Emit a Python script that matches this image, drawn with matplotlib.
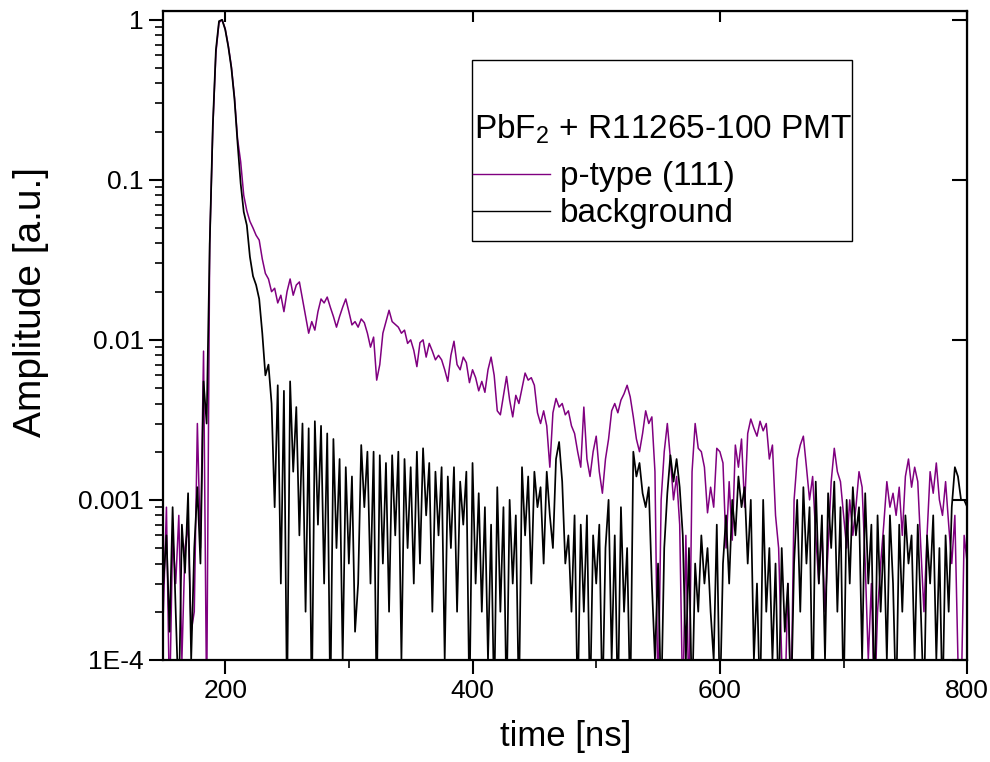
import numpy as np
import matplotlib
matplotlib.use("Agg")
import matplotlib.pyplot as plt
from matplotlib.patches import Rectangle
from matplotlib.ticker import FixedLocator, FixedFormatter, NullFormatter

plt.rcParams['font.family'] = ['Liberation Sans', 'DejaVu Sans']
plt.rcParams['mathtext.fontset'] = 'custom'
plt.rcParams['mathtext.rm'] = 'Liberation Sans'
plt.rcParams['mathtext.it'] = 'Liberation Sans'

# time axis: 150 ns .. 800 ns, 2.5 ns per sample
t_start = 150.0
t_step = 2.5

# amplitudes, in units of 1e-3 a.u. (0.05 = below the axis)
ptype_e3 = [
    0.2, 0.9, 0.05, 0.6, 0.3, 0.8, 0.1, 0.5, 0.7, 0.15,          # 150
    0.2, 3.0, 0.5, 8.5, 0.05, 40, 210, 620, 960, 1000,           # 175
    880, 690, 510, 330, 180, 130, 80, 64, 55, 50,                # 200
    45, 42, 32, 26, 24, 20, 21, 17, 19, 15,                      # 225
    20, 24, 19, 22, 23, 18, 14, 11, 13, 11.5,                    # 250
    15, 18, 17, 18.5, 16, 14, 12, 14, 16, 18,                    # 275
    15, 12.4, 13, 12, 13.5, 12.8, 11, 9, 10.4, 5.6,              # 300
    7, 11, 13, 15.3, 13, 12.5, 12, 11, 11.5, 9.5,                # 325
    10, 8.6, 6.8, 9.6, 10, 7.8, 9.5, 8.5, 7.5, 8,                # 350
    7.5, 6.5, 5.5, 8, 9.8, 7, 6.5, 7.8, 7.2, 5.4,                # 375
    6.5, 5.8, 4.8, 5.5, 4.7, 6.5, 7.8, 6, 3.6, 3.4,              # 400
    4.5, 5.9, 4.2, 3.3, 4.5, 4.0, 5.0, 6.2, 5.6, 5.8,            # 425
    5.2, 3.5, 3.0, 3.6, 2.9, 1.6, 3.5, 4.3, 3.8, 4.0,            # 450
    3.4, 3.6, 2.9, 2.6, 2.0, 1.6, 3.8, 1.8, 1.4, 2.0,            # 475
    2.5, 1.5, 1.1, 1.8, 2.4, 3.6, 4.0, 3.5, 4.2, 4.6,            # 500
    5.2, 4.4, 3.3, 2.4, 2.0, 2.6, 3.6, 3.0, 3.3, 1.5,            # 525
    0.05, 1.0, 2.0, 3.0, 1.8, 1.0, 1.4, 0.7, 0.05, 0.6,          # 550
    0.05, 1.5, 3.0, 2.1, 2.0, 1.6, 0.83, 1.2, 0.9, 2.1,          # 575
    2.0, 1.7, 0.5, 1.3, 0.56, 2.2, 1.6, 2.4, 0.9, 2.6,           # 600
    3.2, 2.8, 2.5, 3.1, 2.7, 3.0, 1.8, 2.2, 0.8, 0.5,            # 625
    0.1, 0.05, 0.3, 0.05, 1.0, 1.8, 2.2, 2.5, 1.6, 1.0,          # 650
    1.4, 0.6, 0.3, 0.65, 0.2, 0.5, 1.3, 2.1, 1.5, 1.3,           # 675
    0.8, 0.5, 1.0, 0.6, 0.9, 1.5, 1.2, 0.4, 0.1, 0.3,            # 700
    0.05, 0.2, 0.4, 0.7, 1.3, 0.9, 1.1, 0.8, 1.2, 0.6,           # 725
    1.4, 1.8, 1.2, 1.6, 1.3, 0.5, 0.2, 0.6, 1.5, 1.1,            # 750
    1.7, 1.0, 0.8, 1.3, 0.7, 0.4, 0.8, 0.1, 0.05, 0.6,           # 775
    0.4,                                                         # 800
]

background_e3 = [
    0.3, 0.6, 0.15, 0.9, 0.2, 0.05, 0.7, 0.35, 1.1, 0.1,         # 150
    0.5, 1.2, 0.4, 5.5, 3.0, 40, 220, 650, 980, 1000,            # 175
    870, 680, 500, 320, 170, 95, 63, 52, 33, 25,                 # 200
    22, 18, 11, 6, 7, 4, 0.9, 5.2, 0.3, 4.8,                     # 225
    0.05, 5.5, 1.5, 3.8, 0.6, 3.0, 0.2, 2.8, 0.05, 3.1,          # 250
    0.7, 2.9, 0.3, 2.6, 0.05, 2.4, 0.5, 1.8, 0.1, 1.6,           # 275
    0.4, 1.4, 0.15, 0.3, 2.2, 0.9, 2.0, 0.3, 2.0, 0.05,          # 300
    1.9, 0.4, 1.7, 0.2, 1.9, 0.6, 2.0, 0.1, 1.8, 0.5,            # 325
    1.6, 0.3, 2.0, 0.4, 2.1, 0.8, 1.7, 0.2, 1.5, 0.6,            # 350
    1.6, 0.1, 1.4, 0.5, 1.6, 0.2, 1.3, 0.7, 1.5, 0.05,           # 375
    1.7, 0.3, 1.1, 0.2, 0.9, 0.1, 0.7, 0.05, 1.2, 0.2,           # 400
    0.9, 0.05, 1.0, 0.3, 0.8, 0.05, 1.6, 0.6, 1.4, 0.3,          # 425
    1.5, 0.9, 1.2, 0.4, 1.5, 0.8, 0.5, 1.8, 2.3, 1.3,            # 450
    0.4, 0.6, 0.2, 0.8, 0.05, 0.7, 0.2, 0.8, 0.05, 0.6,          # 475
    0.3, 0.7, 0.05, 0.5, 1.0, 0.1, 0.6, 0.05, 0.9, 0.2,          # 500
    0.5, 0.05, 2.0, 1.4, 1.7, 1.1, 0.9, 1.2, 0.3, 0.1,           # 525
    0.4, 0.05, 0.5, 1.1, 1.9, 1.3, 1.8, 1.2, 0.6, 0.1,           # 550
    0.5, 0.05, 0.4, 0.2, 0.6, 0.3, 0.5, 0.2, 0.1, 0.7,           # 575
    0.05, 0.4, 0.8, 0.3, 1.0, 0.6, 1.4, 0.9, 1.2, 0.4,           # 600
    1.0, 0.1, 0.3, 0.05, 1.0, 0.2, 0.5, 0.1, 0.4, 0.05,          # 625
    0.5, 0.15, 0.3, 0.05, 0.4, 1.0, 0.2, 1.2, 0.4, 0.9,          # 650
    0.05, 1.3, 0.3, 0.8, 0.1, 1.1, 0.5, 1.3, 0.2, 0.9,           # 675
    0.05, 1.0, 0.3, 1.2, 0.6, 0.9, 0.1, 1.1, 0.3, 0.7,           # 700
    0.05, 0.8, 0.2, 0.6, 0.1, 0.8, 0.3, 0.05, 0.7, 0.2,          # 725
    0.8, 0.4, 0.6, 0.1, 0.7, 0.2, 0.05, 0.6, 0.3, 0.8,           # 750
    0.1, 0.5, 0.05, 0.6, 0.2, 0.9, 1.6, 1.4, 1.0, 1.0,           # 775
    0.9,                                                         # 800
]

y_ticks = [1e-4, 1e-3, 1e-2, 1e-1, 1]
y_labels = ['1E-4', '0.001', '0.01', '0.1', '1']
x_ticks = [200, 400, 600, 800]

time_p = t_start + t_step * np.arange(len(ptype_e3))
time_b = t_start + t_step * np.arange(len(background_e3))
ptype = np.array(ptype_e3) * 1e-3
background = np.array(background_e3) * 1e-3

fig = plt.figure(figsize=(9.9, 7.62), dpi=100)
ax = fig.add_axes([0.165, 0.134, 0.812, 0.852])

ax.plot(time_p, ptype, color='#800080', lw=1.1, label='p-type (111)')
ax.plot(time_b, background, color='black', lw=1.25, label='background')

ax.set_yscale('log')
ax.set_xlim(150, 800)
ax.set_ylim(1e-4, 1.14)

ax.xaxis.set_major_locator(FixedLocator(x_ticks))
ax.xaxis.set_minor_locator(FixedLocator([300, 500, 700]))
ax.yaxis.set_major_locator(FixedLocator(y_ticks))
ax.yaxis.set_major_formatter(FixedFormatter(y_labels))
minors = [m * 10.0 ** e for e in range(-4, 0) for m in range(2, 10)]
ax.yaxis.set_minor_locator(FixedLocator(minors))
ax.yaxis.set_minor_formatter(NullFormatter())

ax.tick_params(axis='both', which='major', direction='out', length=10, width=1.5,
               labelsize=19, pad=4)
ax.tick_params(axis='both', which='minor', direction='out', length=6, width=1.2)
for s in ax.spines.values():
    s.set_linewidth(1.6)

# inward ticks on the right and top edges (decades / labelled times only)
ax_r = ax.secondary_yaxis('right')
ax_r.set_yticks(y_ticks)
ax_r.yaxis.set_minor_locator(FixedLocator([]))
ax_r.tick_params(direction='in', length=11, width=1.5, labelright=False)
ax_t = ax.secondary_xaxis('top')
ax_t.set_xticks(x_ticks)
ax_t.tick_params(direction='in', length=8, width=1.5, labeltop=False)

ax.set_xlabel('time [ns]', fontsize=25, labelpad=12)
ax.set_ylabel('Amplitude [a.u.]', fontsize=28)
ax.yaxis.set_label_coords(-0.142, 0.552)

# legend: framed box with a title line and two entries
ax.add_patch(Rectangle((0.3843, 0.6456), 0.4727, 0.2789, transform=ax.transAxes,
                       fill=True, facecolor='white', edgecolor='black', lw=1.0,
                       zorder=4))
ax.text(0.3868, 0.8166, 'PbF$_2$ + R11265-100 PMT', transform=ax.transAxes,
        fontsize=24, ha='left', va='center', zorder=5)
leg = ax.legend(loc='upper left', bbox_to_anchor=(0.3855, 0.768), borderaxespad=0,
                fontsize=24, frameon=False, handlelength=2.3, handletextpad=0.3,
                labelspacing=0.18, borderpad=0)
leg.set_zorder(5)
for h in leg.get_lines():
    h.set_linewidth(1.0)

fig.savefig('out.png', dpi=100)
